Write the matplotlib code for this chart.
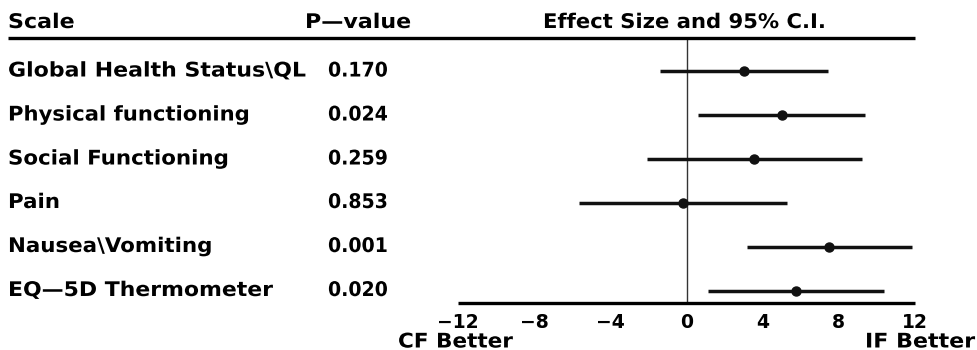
import matplotlib
matplotlib.use("Agg")
import matplotlib.pyplot as plt
from matplotlib.lines import Line2D
from matplotlib.patheffects import AbstractPathEffect
from matplotlib.transforms import Affine2D

scales = ["Global Health Status\\QL", "Physical functioning", "Social Functioning",
          "Pain", "Nausea\\Vomiting", "EQ\u20145D Thermometer"]
p_values = ["0.170", "0.024", "0.259", "0.853", "0.001", "0.020"]
effect = [3.0, 5.0, 3.55, -0.2, 7.5, 5.75]
ci_low = [-1.4, 0.6, -2.05, -5.65, 3.2, 1.15]
ci_high = [7.45, 9.4, 9.2, 5.3, 11.85, 10.35]
xticks = [-12, -8, -4, 0, 4, 8, 12]


class Stretch(AbstractPathEffect):
    """Stretch text horizontally about its left origin."""
    def __init__(self, sx):
        super().__init__()
        self.sx = sx

    def draw_path(self, renderer, gc, tpath, affine, rgbFace=None):
        renderer.draw_path(gc, tpath, Affine2D().scale(self.sx, 1) + affine, rgbFace)


W, H = 977, 350
fig = plt.figure(figsize=(W / 100, H / 100), dpi=100)
plt.rcParams['font.family'] = ['DejaVu Sans']
FS = 14.5
FW = 'bold'


def fx(px):
    return px / W


def fy(py):
    return 1 - py / H


def label(xpx, ypx, s, sx=1.07, fs=FS):
    fig.text(fx(xpx), fy(ypx), s, fontsize=fs, fontweight=FW, ha='left', va='center',
             path_effects=[Stretch(sx)])


# main axes: x -12..12 between px 458 and 915; y between px 38 and 303
ax = fig.add_axes([fx(458), fy(303), fx(915) - fx(458), fy(38) - fy(303)])
ax.set_xlim(-12, 12)
row_px = [71, 115, 159, 202.5, 246.5, 290.5]
spacing = (row_px[-1] - row_px[0]) / 5
ax.set_ylim(5 + (303 - row_px[-1]) / spacing, -(row_px[0] - 38) / spacing)

for s in ['top', 'right', 'left']:
    ax.spines[s].set_visible(False)
ax.spines['bottom'].set_linewidth(2.4)
ax.spines['bottom'].set_capstyle('butt')
ax.set_yticks([])
ax.set_xticks(xticks)
ax.set_xticklabels([f"\u2212{abs(t)}" if t < 0 else str(t) for t in xticks],
                   fontsize=FS - 1, fontweight=FW)
ax.tick_params(axis='x', length=0, pad=7)

ax.axvline(0, color='#333333', lw=1.0)

ys = list(range(len(scales)))
ax.hlines(ys, ci_low, ci_high, color='#111111', lw=2.5)
ax.plot(effect, ys, 'o', color='#111111', ms=6.5, zorder=3)

# header line
fig.add_artist(Line2D([fx(8), fx(915)], [fy(38), fy(38)], transform=fig.transFigure,
                      color='black', lw=2.4, solid_capstyle='butt'))

# header texts
label(8, 22.5, "Scale", 1.1)
label(305, 22.5, "P\u2014value", 1.1)
label(543, 22.5, "Effect Size and 95% C.I.", 1.05)

stretch_rows = [1.095, 1.05, 1.06, 1.06, 1.06, 1.09]
for i, (name, p) in enumerate(zip(scales, p_values)):
    label(8, row_px[i], name, stretch_rows[i])
    label(328, row_px[i], p, 0.94)

label(398, 342, "CF Better", 1.07)
label(865, 342, "IF Better", 1.1)

fig.savefig("out.png", dpi=100)
